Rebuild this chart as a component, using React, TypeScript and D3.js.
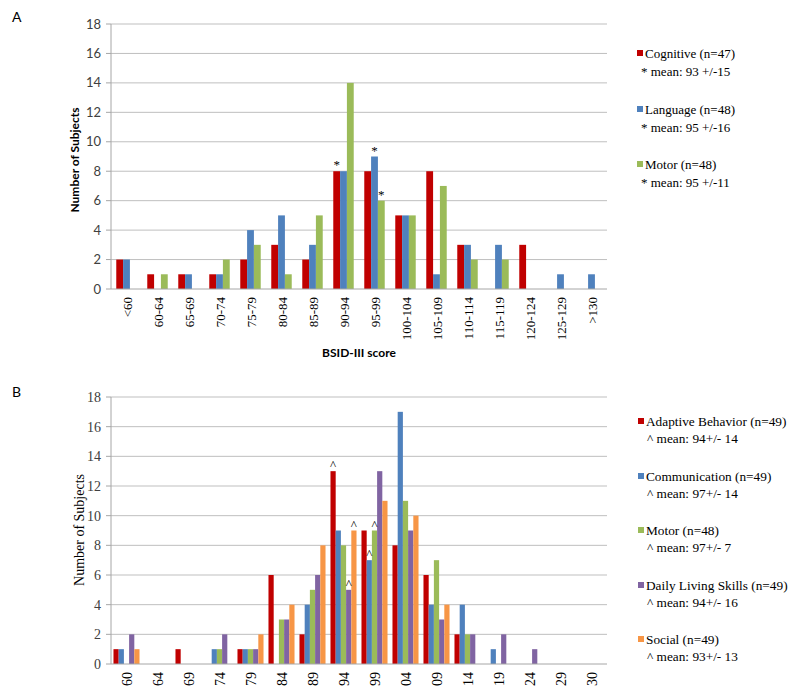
import React, { useEffect, useRef } from 'react';
import * as d3 from 'd3';

// panel A data (BSID-III)
const categoriesA = ['<60', '60-64', '65-69', '70-74', '75-79', '80-84', '85-89', '90-94', '95-99',
  '100-104', '105-109', '110-114', '115-119', '120-124', '125-129', '>130'];
const cognitive = [2, 1, 1, 1, 2, 3, 2, 8, 8, 5, 8, 3, 0, 3, 0, 0];
const language = [2, 0, 1, 1, 4, 5, 3, 8, 9, 5, 1, 3, 3, 0, 1, 1];
const motorA = [0, 1, 0, 2, 3, 1, 5, 14, 6, 5, 7, 2, 2, 0, 0, 0];
const seriesNamesA = ['Cognitive (n=47)', 'Language (n=48)', 'Motor (n=48)'];
const meansA = ['* mean: 93 +/-15', '* mean: 95 +/-16', '* mean: 95 +/-11'];
// [series index, category] marked with *
const starsA: [number, string][] = [[0, '90-94'], [1, '95-99'], [2, '95-99']];

// panel B data (ABAS)
const categoriesB = ['60', '64', '69', '74', '79', '84', '89', '94', '99', '04', '09', '14', '19', '24', '29', '30'];
const adaptive = [1, 0, 1, 0, 1, 6, 2, 13, 9, 8, 6, 2, 0, 0, 0, 0];
const communication = [1, 0, 0, 1, 1, 0, 4, 9, 7, 17, 4, 4, 1, 0, 0, 0];
const motorB = [0, 0, 0, 1, 1, 3, 5, 8, 9, 11, 7, 2, 0, 0, 0, 0];
const dailyLiving = [2, 0, 0, 2, 1, 3, 6, 5, 13, 9, 3, 2, 2, 1, 0, 0];
const social = [1, 0, 0, 0, 2, 4, 8, 9, 11, 10, 4, 0, 0, 0, 0, 0];
const seriesNamesB = ['Adaptive Behavior (n=49)', 'Communication (n=49)', 'Motor (n=48)',
  'Daily Living Skills (n=49)', 'Social (n=49)'];
const meansB = ['^ mean: 94+/- 14', '^ mean: 97+/- 14', '^ mean: 97+/- 7', '^ mean: 94+/- 16', '^ mean: 93+/- 13'];
const caretsB: [number, string][] = [[0, '94'], [4, '94'], [3, '94'], [1, '99'], [2, '99']];

const yTicks = [0, 2, 4, 6, 8, 10, 12, 14, 16, 18];

const colors = ['#c00000', '#4f81bd', '#9bbb59', '#8064a2', '#f79646'];
const serif = "'Liberation Serif', 'Times New Roman', serif";
const sans = "Lato, 'Liberation Sans', sans-serif";

function drawPanel(svg: any, o: any) {
  const g = svg.append('g');
  const x = d3.scaleBand<string>().domain(o.categories).range([o.left, o.right])
    .paddingInner(o.padIn).paddingOuter(o.padIn / 2);
  const inner = d3.scaleBand<number>().domain(d3.range(o.series.length)).range([0, x.bandwidth()]);
  const y = d3.scaleLinear().domain([0, 18]).range([o.bottom, o.top]);

  // grid + ticks
  g.selectAll('.grid').data(yTicks.slice(1)).enter().append('line')
    .attr('x1', o.left).attr('x2', o.right)
    .attr('y1', (d: number) => y(d)).attr('y2', (d: number) => y(d))
    .attr('stroke', '#bfbfbf').attr('stroke-width', 1);
  g.selectAll('.tick').data(yTicks).enter().append('line')
    .attr('x1', o.left - 5).attr('x2', o.left)
    .attr('y1', (d: number) => y(d)).attr('y2', (d: number) => y(d))
    .attr('stroke', '#a6a6a6');
  g.selectAll('.ylab').data(yTicks).enter().append('text')
    .attr('x', o.left - 10).attr('y', (d: number) => y(d)).attr('dy', '0.35em')
    .attr('text-anchor', 'end').style('font-family', o.yFont).style('font-size', o.yFontSize + 'px')
    .attr('fill', '#404040').text((d: number) => d);

  // bars
  o.series.forEach((vals: number[], si: number) => {
    g.selectAll('.bar' + si).data(vals).enter().append('rect')
      .attr('x', (d: number, i: number) => (x(o.categories[i]) as number) + (inner(si) as number))
      .attr('y', (d: number) => y(d))
      .attr('width', inner.bandwidth())
      .attr('height', (d: number) => o.bottom - y(d))
      .attr('fill', colors[si]);
  });

  // axes lines
  g.append('line').attr('x1', o.left).attr('x2', o.left).attr('y1', o.top).attr('y2', o.bottom)
    .attr('stroke', '#a6a6a6');
  g.append('line').attr('x1', o.left).attr('x2', o.right).attr('y1', o.bottom).attr('y2', o.bottom)
    .attr('stroke', '#a6a6a6');

  // marks above bars
  o.marks.forEach((m: [number, string]) => {
    const si = m[0];
    const ci = o.categories.indexOf(m[1]);
    g.append('text')
      .attr('x', (x(m[1]) as number) + (inner(si) as number) + inner.bandwidth() / 2)
      .attr('y', y(o.series[si][ci]) - 2)
      .attr('text-anchor', 'middle').style('font-family', serif).style('font-size', '13px')
      .attr('fill', '#000').text(o.markChar);
  });

  // category labels
  g.selectAll('.xlab').data(o.categories).enter().append('text')
    .attr('transform', (d: string) => `translate(${(x(d) as number) + x.bandwidth() / 2 + 1},${o.bottom + 8}) rotate(-90)`)
    .attr('dy', '0.35em').attr('text-anchor', 'end')
    .style('font-family', serif).style('font-size', o.xFontSize + 'px').attr('fill', '#000')
    .text((d: string) => d);

  // y title
  g.append('text')
    .attr('transform', `translate(${o.yTitleX},${o.yTitleY}) rotate(-90)`)
    .attr('text-anchor', 'middle').style('font-family', o.yTitleFont)
    .style('font-weight', o.yTitleBold ? 'bold' : 'normal').style('font-size', o.yTitleSize + 'px')
    .attr('fill', '#000').text('Number of Subjects');

  // legend
  o.names.forEach((name: string, i: number) => {
    const ly = o.legendY[i];
    g.append('rect').attr('x', o.legendX).attr('y', ly - 8).attr('width', 6).attr('height', 6)
      .attr('fill', colors[i]);
    g.append('text').attr('x', o.legendX + 8).attr('y', ly)
      .style('font-family', serif).style('font-size', o.legendSize + 'px').attr('fill', '#000').text(name);
    g.append('text').attr('x', o.legendX + o.meanIndent).attr('y', ly + o.meanGap)
      .style('font-family', serif).style('font-size', o.legendSize + 'px').attr('fill', '#000').text(o.means[i]);
  });

  // panel letter
  g.append('text').attr('x', 12).attr('y', o.letterY).style('font-family', sans)
    .style('font-size', '14px').attr('fill', '#000').text(o.letter);
}

export default function App() {
  const ref = useRef<SVGSVGElement>(null);
  useEffect(() => {
    const svg = d3.select(ref.current);
    svg.selectAll('*').remove();
    drawPanel(svg, {
      categories: categoriesA, series: [cognitive, language, motorA],
      left: 111, right: 607, top: 24, bottom: 289, padIn: 0.34,
      yFont: sans, yFontSize: 13, xFontSize: 13,
      marks: starsA, markChar: '*',
      yTitleX: 79, yTitleY: 160, yTitleFont: sans, yTitleBold: true, yTitleSize: 12,
      names: seriesNamesA, means: meansA, legendX: 637, legendY: [58, 114, 169],
      meanIndent: 4, meanGap: 18, legendSize: 13,
      letter: 'A', letterY: 22
    });
    svg.append('text').attr('x', 359).attr('y', 357).attr('text-anchor', 'middle')
      .style('font-family', sans).style('font-weight', 'bold').style('font-size', '12px')
      .attr('fill', '#000').text('BSID-III score');
    drawPanel(svg, {
      categories: categoriesB, series: [adaptive, communication, motorB, dailyLiving, social],
      left: 111, right: 607, top: 397, bottom: 664, padIn: 0.16,
      yFont: serif, yFontSize: 14, xFontSize: 14,
      marks: caretsB, markChar: '^',
      yTitleX: 84, yTitleY: 530, yTitleFont: serif, yTitleBold: false, yTitleSize: 14,
      names: seriesNamesB, means: meansB, legendX: 638, legendY: [426, 481, 535, 590, 644],
      meanIndent: 9, meanGap: 17, legendSize: 13.3,
      letter: 'B', letterY: 397
    });
  }, []);
  return (
    <svg ref={ref} width={800} height={697}
      style={{ position: 'absolute', left: 0, top: 0, background: '#fff' }} />
  );
}
